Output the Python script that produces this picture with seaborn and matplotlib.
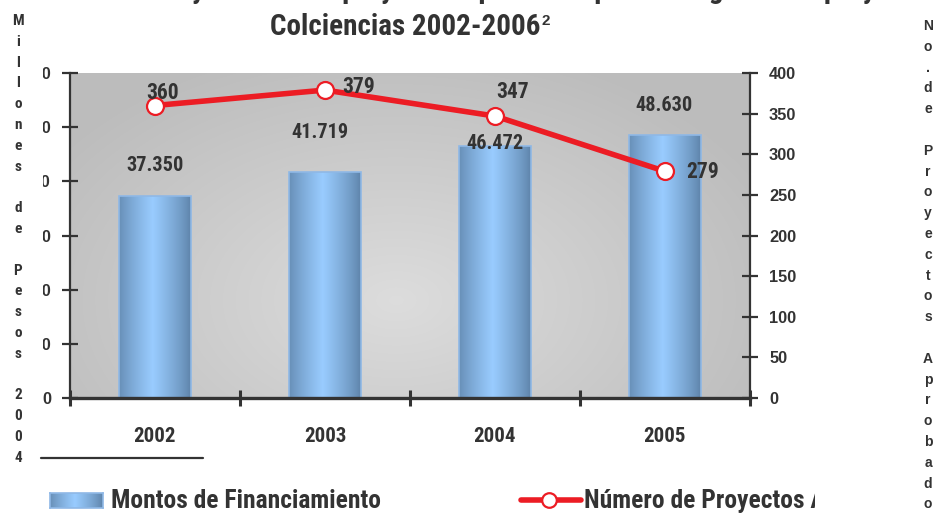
import numpy as np
import pandas as pd
import matplotlib
matplotlib.use("Agg")
import matplotlib.pyplot as plt
import seaborn as sns
from matplotlib.patches import Rectangle
from matplotlib.lines import Line2D
from matplotlib import font_manager

# ---------------- data ----------------
years = ["2002", "2003", "2004", "2005"]
montos = [37350, 41719, 46472, 48630]
montos_labels = ["37.350", "41.719", "46.472", "48.630"]
proyectos = [360, 379, 347, 279]
left_ticks = [0, 10000, 20000, 30000, 40000, 50000, 60000]
left_tick_labels = ["0", "10.000", "20.000", "30.000", "40.000", "50.000", "60.000"]
right_ticks = [0, 50, 100, 150, 200, 250, 300, 350, 400]
right_tick_labels = ["0", "50", "100", "150", "200", "250", "300", "350", "400"]
title_line1 = "Montos de financiamiento y número de proyectos aprobados por el Programa de proyectos"
title_line2 = "Colciencias 2002-2006"
title_sup = "2"
left_label = "Millones de Pesos 2004"
right_label = "No.de Proyectos Aprobados"
legend_labels = ["Montos de Financiamiento", "Número de Proyectos Aprobados"]

# label offsets in points (placement only)
bar_label_offsets = [(0, 23), (-3.6, 30), (0, 3.2), (-1, 22.7)]
line_label_offsets = [(5.5, 11), (24.3, 4.3), (13, 19.2), (26.9, 1.2)]

# ---------------- style ----------------
W, H, DPI = 937, 513, 100
sns.set_theme(style="white")
names = {f.name for f in font_manager.fontManager.ttflist}
NARROW = None
for cand in ["Liberation Sans Narrow", "Roboto Condensed", "Open Sans Condensed", "Arial Narrow"]:
    if cand in names:
        NARROW = cand
        break
REG = "Liberation Sans"
if NARROW is None:
    NARROW = REG
    k = 0.82  # shrink sizes to match widths with a regular-width face
else:
    k = 1.0
plt.rcParams["font.family"] = [REG, "DejaVu Sans"]
NF = [NARROW, "DejaVu Sans"]
TXT = "#333333"
RED = "#ec1c24"

fig = plt.figure(figsize=(W / DPI, H / DPI), dpi=DPI)
fig.patch.set_facecolor("white")


def fx(px):
    return px / W


def fy(py):
    return 1 - py / H


L, R, T, B = 70, 750, 73, 398
ax = fig.add_axes([fx(L), fy(B), fx(R - L), (B - T) / H])

# plot-area gradient background
gx = np.linspace(0, 1, 400)
gy = np.linspace(0, 1, 300)
X, Y = np.meshgrid(gx, gy)
r = np.sqrt(((X - 0.48) / 0.6) ** 2 + ((Y - 0.3) / 0.8) ** 2)
v = 0.865 - 0.125 * np.clip(r, 0, 1)
bg = np.dstack([v, v, v])
ax.imshow(bg, extent=[0, 1, 0, 1], transform=ax.transAxes, origin="lower",
          aspect="auto", zorder=0, interpolation="bilinear")

# bars
df = pd.DataFrame({"Año": years, "Montos": montos, "Proyectos": proyectos})
sns.barplot(data=df, x="Año", y="Montos", ax=ax, width=0.42, color="#7fa8d4",
            edgecolor="#8fb8e6", linewidth=1.2, zorder=2)

t = np.linspace(0, 1, 256)
prof = np.clip(1 - np.abs(t - 0.47) / 0.53, 0, 1) ** 0.8
dark = np.array([0x5d, 0x82, 0xa8]) / 255
light = np.array([0x99, 0xcc, 0xff]) / 255
grad = dark[None, :] + (light - dark)[None, :] * prof[:, None]
grad_img = grad[None, :, :]
for p in list(ax.patches):
    x0, w, h = p.get_x(), p.get_width(), p.get_height()
    im = ax.imshow(grad_img, extent=[x0, x0 + w, 0, h], aspect="auto",
                   zorder=2.5, interpolation="bilinear")
    im.set_clip_path(p)
    p.set_facecolor("none")
    p.set_zorder(3)

ax.set_xlim(-0.5, 3.5)
ax.set_ylim(0, 60000)
ax.set_xlabel("")
ax.set_ylabel("")

for i, (lab, off) in enumerate(zip(montos_labels, bar_label_offsets)):
    ax.annotate(lab, xy=(i, montos[i]), xytext=off, textcoords="offset points",
                ha="center", va="center_baseline", fontsize=14.6 * k, fontweight="bold",
                color=TXT, family=NF, zorder=6)

# line on secondary axis
ax2 = ax.twinx()
sns.lineplot(x=np.arange(len(years)), y=proyectos, ax=ax2, color=RED, linewidth=4,
             marker="o", markersize=12.2, markerfacecolor="white",
             markeredgecolor=RED, markeredgewidth=1.6, zorder=5)
ax2.set_ylim(0, 400)
ax2.set_xlim(-0.5, 3.5)
ax2.set_ylabel("")
for i, off in enumerate(line_label_offsets):
    ax2.annotate(str(proyectos[i]), xy=(i, proyectos[i]), xytext=off,
                 textcoords="offset points", ha="center", va="center_baseline",
                 fontsize=15.5 * k, fontweight="bold", color=TXT, family=NF, zorder=6)

# axes / ticks
for s in ["top", "right"]:
    ax.spines[s].set_visible(False)
ax.spines["left"].set_color(TXT)
ax.spines["left"].set_linewidth(1.6)
ax.spines["bottom"].set_color(TXT)
ax.spines["bottom"].set_linewidth(2.4)
for s in ax.spines.values():
    s.set_zorder(10)
for s in ["top", "left", "bottom"]:
    ax2.spines[s].set_visible(False)
ax2.spines["right"].set_color(TXT)
ax2.spines["right"].set_linewidth(1.6)

ax.set_yticks(left_ticks)
ax.set_yticklabels(left_tick_labels)
ax.tick_params(axis="y", direction="inout", length=11, width=1.6, color=TXT,
               pad=8.2, labelsize=11.8, labelcolor=TXT, left=True)
ax.set_xticks(range(len(years)))
ax.set_xticklabels(years)
ax.tick_params(axis="x", which="major", length=0, pad=20.6, labelsize=15 * k,
               labelcolor=TXT)
ax.set_xticks([-0.5, 0.5, 1.5, 2.5, 3.5], minor=True)
ax.tick_params(axis="x", which="minor", direction="inout", length=11, width=2.2,
               color=TXT, bottom=True)
for lbl in ax.get_xticklabels():
    lbl.set_fontweight("bold")
    lbl.set_family(NF)

clip_rect = Rectangle((fx(43), 0), 1, 1, transform=fig.transFigure)
for lbl in ax.get_yticklabels():
    lbl.set_fontweight("bold")
    lbl.set_clip_path(clip_rect)
    lbl.set_clip_on(True)

ax2.set_yticks(right_ticks)
ax2.set_yticklabels(right_tick_labels)
ax2.tick_params(axis="y", direction="inout", length=11, width=1.6, color=TXT,
                pad=8.2, labelsize=11.8, labelcolor=TXT, right=True)
for lbl in ax2.get_yticklabels():
    lbl.set_fontweight("bold")

renderer = fig.canvas.get_renderer()

# titles
fig.text(fx(410), fy(-1.5), title_line1, ha="center", va="baseline", fontsize=21 * k,
         fontweight="bold", color=TXT, family=NF)
t2 = fig.text(fx(270), fy(35), title_line2, ha="left", va="baseline", fontsize=21 * k,
              fontweight="bold", color=TXT, family=NF)
x_end = t2.get_window_extent(renderer).x1
fig.text((x_end + 1.5) / W, fy(25), title_sup, ha="left", va="baseline", fontsize=11,
         fontweight="bold", color=TXT)


# stacked side labels
def stacked(text, x, ytop, family, size, step_px):
    s = "\n".join(list(text))
    n = len(text)
    t1 = fig.text(0, 0, s, fontsize=size, fontweight="bold", family=family, linespacing=1)
    h1 = t1.get_window_extent(renderer).height
    t1.set_linespacing(2)
    h2 = t1.get_window_extent(renderer).height
    t1.remove()
    kk = (h2 - h1) / (n - 1)          # ascent part of a line
    d = (h1 - n * kk) / n             # descent part added per line
    ls = (step_px - d) / kk
    fig.text(fx(x), fy(ytop), s, ha="center", va="top", ma="center",
             fontsize=size, fontweight="bold", family=family, color=TXT,
             linespacing=ls)


stacked(left_label, 18, 14, NF, 11 * k + (1 - k) * 2, 20.8)
stacked(right_label, 928, 19, [REG, "DejaVu Sans"], 10, 20.8)

# footnote separator
fig.add_artist(Line2D([fx(41), fx(203)], [fy(458), fy(458)], transform=fig.transFigure,
                      color=TXT, lw=1.6))

# legend (manual)
lax = fig.add_axes([fx(50), fy(508), fx(53), 15 / H])
lax.imshow(grad_img, aspect="auto", extent=[0, 1, 0, 1], interpolation="bilinear")
lax.set_xticks([])
lax.set_yticks([])
for s in lax.spines.values():
    s.set_color("#8fb8e6")
    s.set_linewidth(1.2)
fig.text(fx(111), fy(508), legend_labels[0], ha="left", va="baseline",
         fontsize=18.4 * k + (1 - k) * 3, fontweight="bold", color=TXT, family=NF)
fig.add_artist(Line2D([fx(521), fx(581)], [fy(500), fy(500)], transform=fig.transFigure,
                      color=RED, lw=4))
fig.add_artist(Line2D([fx(549)], [fy(500)], transform=fig.transFigure, marker="o",
                      markersize=10.5, markerfacecolor="white", markeredgecolor=RED,
                      markeredgewidth=1.6, linestyle="none"))
leg2 = fig.text(fx(584), fy(508), legend_labels[1], ha="left", va="baseline",
                fontsize=18.4 * k + (1 - k) * 3, fontweight="bold", color=TXT, family=NF)
leg2.set_clip_path(Rectangle((0, 0), fx(815), 1, transform=fig.transFigure))
leg2.set_clip_on(True)

fig.savefig("out.png", dpi=DPI, facecolor="white")
